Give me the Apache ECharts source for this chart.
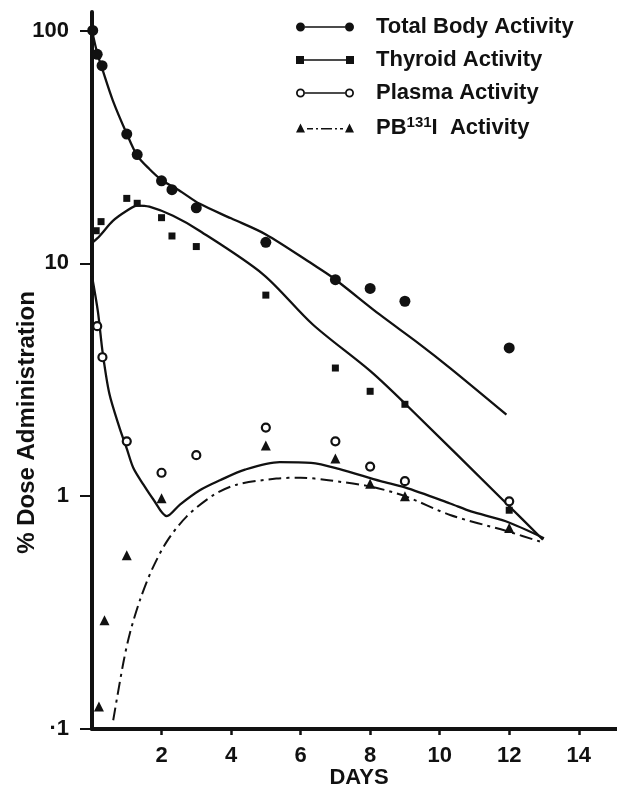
<!DOCTYPE html>
<html>
<head>
<meta charset="utf-8">
<script src="https://cdn.jsdelivr.net/npm/echarts@6/dist/echarts.min.js"></script>
<style>
html,body{margin:0;padding:0;background:#fff;}
#chart{width:617px;height:787px;}
</style>
</head>
<body>
<div id="chart"></div>
<script>
// ---- data (x = days, y = % dose) ----
var seriesNames = ['Total Body Activity', 'Thyroid Activity', 'Plasma Activity', 'PB131I Activity'];
var xTickValues = [2, 4, 6, 8, 10, 12, 14];
var yTickLabels = {0.1: '·1', 1: '1', 10: '10', 100: '100'};

var totalPoints = [[0.02,100],[0.15,79],[0.29,70.6],[1.0,35.9],[1.3,29.3],[2.0,22.6],[2.3,20.7],[3.0,17.3],[5.0,12.3],[7.0,8.5],[8.0,7.8],[9.0,6.87],[12.0,4.33]];
var totalCurve = [[0,100],[0.15,80],[0.3,68],[0.6,50],[1.0,36],[1.3,29],[1.65,25.4],[2.0,22.8],[2.5,20.6],[3.1,18],[4.0,15.6],[5.0,13.3],[6.35,9.9],[6.93,8.67],[8.27,6.03],[9.42,4.5],[10.3,3.55],[11.92,2.24]];

var thyroidPoints = [[0.12,13.8],[0.26,15.1],[1.0,19.0],[1.3,18.1],[2.0,15.7],[2.3,13.1],[3.0,11.8],[5.0,7.3],[7.0,3.55],[8.0,2.82],[9.0,2.48],[12.0,0.87]];
var thyroidCurve = [[0.02,12.3],[0.22,13.1],[0.6,15.2],[1.0,16.8],[1.3,17.7],[1.65,17.5],[2.33,16.0],[3.09,13.8],[4.92,8.97],[6.35,5.46],[8.0,3.45],[9.0,2.5],[11.92,0.93],[12.97,0.65]];

var plasmaPoints = [[0.15,5.37],[0.3,3.95],[1.0,1.72],[2.0,1.26],[3.0,1.5],[5.0,1.97],[7.0,1.72],[8.0,1.34],[9.0,1.16],[12.0,0.95]];
var plasmaCurve = [[0,8.8],[0.17,6.2],[0.31,4.1],[0.5,2.75],[0.79,1.97],[1.0,1.6],[1.19,1.32],[1.48,1.12],[1.76,0.97],[2.15,0.82],[2.53,0.92],[3.1,1.06],[3.68,1.17],[4.4,1.3],[5.4,1.4],[6.3,1.39],[7.1,1.31],[8.3,1.16],[9.0,1.09],[10.3,0.93],[10.9,0.86],[11.9,0.78],[13.0,0.66]];

var pbPoints = [[0.2,0.125],[0.36,0.293],[1.0,0.558],[2.0,0.98],[5.0,1.65],[7.0,1.45],[8.0,1.13],[9.0,1.0],[12.0,0.73]];
var pbCurve = [[0.61,0.109],[0.9,0.192],[1.09,0.258],[1.38,0.358],[1.72,0.482],[2.15,0.638],[2.72,0.817],[3.49,1.01],[4.16,1.12],[5.3,1.19],[6.0,1.2],[6.8,1.17],[8.0,1.1],[9.0,1.0],[10.3,0.83],[11.9,0.71],[13.0,0.63]];

// ---- styling ----
var FONT = '"Liberation Sans", Arial, sans-serif';
var INK = '#111';

var iconTotal = 'path://M0,4.5A4.5,4.5,0,1,1,9,4.5A4.5,4.5,0,1,1,0,4.5ZM9,3.7L49,3.7L49,5.3L9,5.3ZM49,4.5A4.5,4.5,0,1,1,58,4.5A4.5,4.5,0,1,1,49,4.5Z';
var iconThyroid = 'path://M0,0.5L8,0.5L8,8.5L0,8.5ZM8,3.7L50,3.7L50,5.3L8,5.3ZM50,0.5L58,0.5L58,8.5L50,8.5Z';
var iconPlasma = 'path://M0,4.5A4.5,4.5,0,1,1,9,4.5A4.5,4.5,0,1,1,0,4.5ZM1.8,4.5A2.7,2.7,0,1,0,7.2,4.5A2.7,2.7,0,1,0,1.8,4.5ZM9,3.7L49,3.7L49,5.3L9,5.3ZM49,4.5A4.5,4.5,0,1,1,58,4.5A4.5,4.5,0,1,1,49,4.5ZM50.8,4.5A2.7,2.7,0,1,0,56.2,4.5A2.7,2.7,0,1,0,50.8,4.5Z';
var iconPB = 'path://M0,9L4.5,0L9,9ZM11,4.5L17,4.5L17,6.1L11,6.1ZM20,4.5L22,4.5L22,6.1L20,6.1ZM25,4.5L36,4.5L36,6.1L25,6.1ZM39,4.5L41,4.5L41,6.1L39,6.1ZM44,4.5L47,4.5L47,6.1L44,6.1ZM49,9L53.5,0L58,9Z';

var legendLabels = {};
legendLabels[seriesNames[0]] = '{sp|}{n|Total Body Activity}';
legendLabels[seriesNames[1]] = '{sp|}{n|Thyroid Activity}';
legendLabels[seriesNames[2]] = '{sp|}{n|Plasma Activity}';
legendLabels[seriesNames[3]] = '{sp|}{n|PB}{sup|131}{n|I  Activity}';

function curve(name, data, dashed) {
  return {
    name: name, type: 'line', data: data, smooth: 0.3, showSymbol: false,
    symbol: 'none', silent: true, z: 2,
    itemStyle: {color: INK},
    lineStyle: {color: INK, width: dashed ? 2 : 2.3, type: dashed ? [13, 5, 3, 5] : 'solid'}
  };
}
function dots(name, data, symbol, size, empty) {
  return {
    name: name, type: 'scatter', data: data, symbol: symbol, symbolSize: size, z: 3,
    itemStyle: empty ? {color: '#fff', borderColor: INK, borderWidth: 2.2, opacity: 1} : {color: INK, opacity: 1}
  };
}

var chart = echarts.init(document.getElementById('chart'), null, {renderer: 'canvas'});
chart.setOption({
  animation: false,
  backgroundColor: '#fff',
  grid: {left: 92, right: 0, top: 12, bottom: 58, containLabel: false, outerBoundsMode: 'none'},
  legend: {
    orient: 'vertical', left: 296, top: 16, padding: 0,
    itemWidth: 58, itemHeight: 9, itemGap: 11,
    selectedMode: false,
    itemStyle: {color: INK, borderWidth: 0},
    data: [
      {name: seriesNames[0], icon: iconTotal},
      {name: seriesNames[1], icon: iconThyroid},
      {name: seriesNames[2], icon: iconPlasma},
      {name: seriesNames[3], icon: iconPB}
    ],
    formatter: function (n) { return legendLabels[n]; },
    textStyle: {
      color: INK,
      rich: {
        sp: {width: 17, lineHeight: 26},
        n: {fontSize: 22, fontWeight: 'bold', fontFamily: FONT, color: INK, lineHeight: 26},
        sup: {fontSize: 15, fontWeight: 'bold', fontFamily: FONT, color: INK, lineHeight: 12, verticalAlign: 'top'}
      }
    }
  },
  xAxis: {
    type: 'value', min: 0, max: 15.1,
    name: 'DAYS', nameLocation: 'middle', nameGap: 38, nameMoveOverlap: false,
    nameTextStyle: {fontSize: 22, fontWeight: 'bold', fontFamily: FONT, color: INK, padding: [0, 0, 0, 9]},
    axisLine: {lineStyle: {color: INK, width: 4}},
    axisTick: {show: true, length: 6, lineStyle: {color: INK, width: 2.5}, customValues: xTickValues},
    axisLabel: {fontSize: 22, fontWeight: 'bold', fontFamily: FONT, color: INK, margin: 16, customValues: xTickValues},
    splitLine: {show: false}
  },
  yAxis: {
    type: 'log', logBase: 10, min: 0.1, max: 120,
    name: '% Dose Administration', nameLocation: 'middle', nameGap: 53, nameRotate: 90, nameMoveOverlap: false,
    nameTextStyle: {fontSize: 24, fontWeight: 'bold', fontFamily: FONT, color: INK, padding: [0, 104, 0, 0]},
    axisLine: {lineStyle: {color: INK, width: 4}},
    axisTick: {show: true, length: 12, lineStyle: {color: INK, width: 2}},
    axisLabel: {
      fontSize: 22, fontWeight: 'bold', fontFamily: FONT, color: INK, margin: 23,
      showMaxLabel: false,
      formatter: function (v) {
        var k = Math.round(Math.log(v) / Math.LN10 * 1000) / 1000;
        if (Math.abs(k - Math.round(k)) > 1e-6) return '';
        return yTickLabels[Math.pow(10, Math.round(k)).toFixed(Math.max(0, -Math.round(k))) * 1] || '';
      }
    },
    splitLine: {show: false},
    minorTick: {show: false}
  },
  series: [
    curve(seriesNames[0], totalCurve, false),
    dots(seriesNames[0], totalPoints, 'circle', 11, false),
    curve(seriesNames[1], thyroidCurve, false),
    dots(seriesNames[1], thyroidPoints, 'rect', 7, false),
    curve(seriesNames[2], plasmaCurve, false),
    dots(seriesNames[2], plasmaPoints, 'circle', 8, true),
    curve(seriesNames[3], pbCurve, true),
    dots(seriesNames[3], pbPoints, 'triangle', 10, false)
  ]
});
</script>
</body>
</html>
